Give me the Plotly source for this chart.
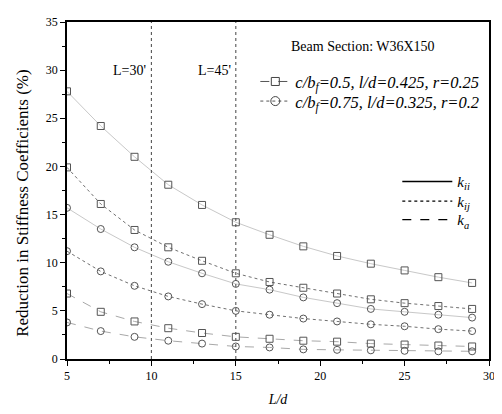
import plotly.graph_objects as go

# ---- data ----
L_over_d = [5, 7, 9, 11, 13, 15, 17, 19, 21, 23, 25, 27, 29]

sq_kii = [27.8, 24.2, 21.0, 18.1, 16.0, 14.2, 12.9, 11.7, 10.7, 9.9, 9.2, 8.5, 7.9]
sq_kij = [19.9, 16.1, 13.4, 11.6, 10.2, 8.9, 8.0, 7.4, 6.8, 6.2, 5.8, 5.5, 5.2]
sq_ka = [6.8, 4.9, 3.9, 3.2, 2.7, 2.3, 2.1, 1.9, 1.8, 1.6, 1.5, 1.4, 1.3]

ci_kii = [15.7, 13.5, 11.6, 10.1, 8.9, 7.8, 7.2, 6.4, 5.8, 5.2, 4.9, 4.6, 4.3]
ci_kij = [11.2, 9.1, 7.6, 6.5, 5.7, 5.0, 4.6, 4.2, 3.9, 3.6, 3.4, 3.1, 2.9]
ci_ka = [3.8, 2.9, 2.3, 1.9, 1.6, 1.3, 1.2, 1.0, 0.95, 0.9, 0.85, 0.8, 0.8]

span_x = [10, 15]
span_labels = ["L=30'", "L=45'"]

param_labels = ["<i>c/b<sub>f</sub>=0.5, l/d=0.425, r=0.25</i>",
                "<i>c/b<sub>f</sub>=0.75, l/d=0.325, r=0.2</i>"]
coef_labels = ["<i>k<sub>ii</sub></i>", "<i>k<sub>ij</sub></i>", "<i>k<sub>a</sub></i>"]
title_text = "Beam Section: W36X150"
y_title = "Reduction in Stiffness Coefficients (%)"
x_title = "<i>L/d</i>"

FONT = "Liberation Serif"

# plot-area geometry in window pixels (page has an 8px body margin)
PX0, PX1, PY0, PY1 = 67, 495, 15, 359
PW, PH = PX1 - PX0, PY1 - PY0


def px(x):
    return (x - PX0) / PW


def py(y):
    return (PY1 - y) / PH


fig = go.Figure()

line_styles = [("solid", "#c8c8c8"), ("dot", "#707070"), ("dash", "#a8a8a8")]

for series, (dash, col) in zip([sq_kii, sq_kij, sq_ka], line_styles):
    fig.add_trace(go.Scatter(
        x=L_over_d, y=series, mode="lines+markers", showlegend=False,
        line=dict(color=col, width=1, dash=dash),
        marker=dict(symbol="square-open", size=7, color="#555555", line=dict(width=1))))

for series, (dash, col) in zip([ci_kii, ci_kij, ci_ka], line_styles):
    fig.add_trace(go.Scatter(
        x=L_over_d, y=series, mode="lines+markers", showlegend=False,
        line=dict(color=col, width=1, dash=dash),
        marker=dict(symbol="circle-open", size=7, color="#555555", line=dict(width=1))))

# legend entries: parameter sets
fig.add_trace(go.Scatter(x=[None], y=[None], mode="lines+markers", name=param_labels[0],
                         line=dict(color="#555555", width=1, dash="dash"),
                         marker=dict(symbol="square-open", size=8, color="#444444"),
                         legend="legend"))
fig.add_trace(go.Scatter(x=[None], y=[None], mode="lines+markers", name=param_labels[1],
                         line=dict(color="#555555", width=1, dash="dot"),
                         marker=dict(symbol="circle-open", size=9, color="#444444"),
                         legend="legend2"))

# legend entries: coefficient line styles
for i, (lab, dash) in enumerate(zip(coef_labels, ["solid", "dot", "dash"])):
    fig.add_trace(go.Scatter(x=[None], y=[None], mode="lines", name=lab,
                             line=dict(color="black", width=1.4 if dash == "solid" else 1.2,
                                       dash=dash),
                             legend="legend%d" % (i + 3)))

for xv, lab in zip(span_x, span_labels):
    fig.add_vline(x=xv, line=dict(color="#555555", width=1.1, dash="dot"))
    fig.add_annotation(x=xv, y=30, text=lab, showarrow=False, xanchor="right",
                       xshift=-3, font=dict(family=FONT, size=14, color="black"))

fig.add_annotation(x=px(292), y=py(40), xref="paper", yref="paper", text=title_text,
                   showarrow=False, xanchor="left", yanchor="middle",
                   font=dict(family=FONT, size=14, color="black"))

fig.add_annotation(x=px(22), y=py(200), xref="paper", yref="paper", text=y_title,
                   showarrow=False, textangle=-90, xanchor="center", yanchor="middle",
                   font=dict(family=FONT, size=17, color="black"))

axis_common = dict(showline=True, linecolor="black", linewidth=1.5, mirror=True,
                   ticks="outside", ticklen=5, tickwidth=1.2, tickcolor="black",
                   showgrid=False, zeroline=False,
                   tickfont=dict(family=FONT, size=12, color="black"))

fig.update_xaxes(range=[5, 30], dtick=5, tick0=5,
                 minor=dict(dtick=2.5, ticks="outside", ticklen=3, tickcolor="black"),
                 title=dict(text=x_title, font=dict(family=FONT, size=14, color="black"),
                            standoff=12),
                 **axis_common)
fig.update_yaxes(range=[0, 35], dtick=5,
                 minor=dict(dtick=2.5, ticks="outside", ticklen=3, tickcolor="black"),
                 **axis_common)

leg_common = dict(xanchor="left", yanchor="middle", bgcolor="rgba(0,0,0,0)")

fig.update_layout(
    width=494, height=406,
    margin=dict(l=PX0 - 8, r=494 - (PX1 - 8), t=PY0 - 8, b=406 - (PY1 - 8)),
    plot_bgcolor="white", paper_bgcolor="white",
    font=dict(family=FONT, color="black"),
    legend=dict(x=px(258), y=py(76), itemwidth=30,
                font=dict(family=FONT, size=16.5, color="black"), **leg_common),
    legend2=dict(x=px(258), y=py(96), itemwidth=30,
                 font=dict(family=FONT, size=16.5, color="black"), **leg_common),
    legend3=dict(x=px(402), y=py(178), itemwidth=50,
                 font=dict(family=FONT, size=15, color="black"), **leg_common),
    legend4=dict(x=px(402), y=py(198), itemwidth=50,
                 font=dict(family=FONT, size=15, color="black"), **leg_common),
    legend5=dict(x=px(402), y=py(217), itemwidth=50,
                 font=dict(family=FONT, size=15, color="black"), **leg_common),
)

fig.write_html("out.html")
